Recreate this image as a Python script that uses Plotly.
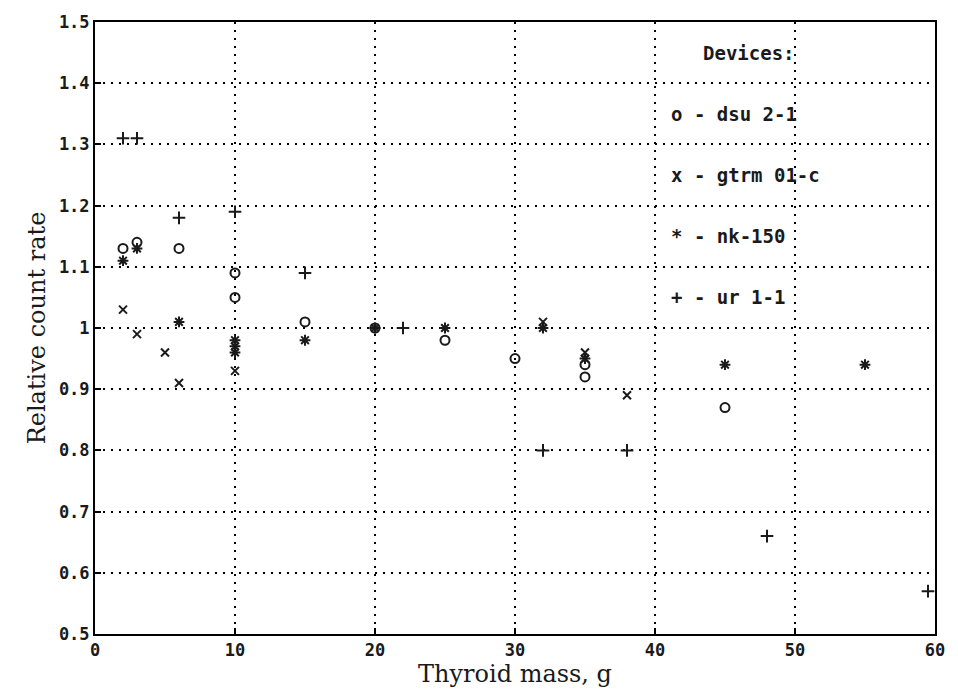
import plotly.graph_objects as go

# Data
dsu_x = [2, 3, 6, 10, 10, 15, 20, 25, 30, 35, 35, 45]
dsu_y = [1.13, 1.14, 1.13, 1.09, 1.05, 1.01, 1.00, 0.98, 0.95, 0.94, 0.92, 0.87]

gtrm_x = [2, 3, 5, 6, 10, 32, 35, 38]
gtrm_y = [1.03, 0.99, 0.96, 0.91, 0.93, 1.01, 0.96, 0.89]

nk_x = [2, 3, 6, 10, 10, 10, 15, 20, 25, 32, 35, 45, 55]
nk_y = [1.11, 1.13, 1.01, 0.98, 0.97, 0.96, 0.98, 1.00, 1.00, 1.00, 0.95, 0.94, 0.94]

ur_x = [2, 3, 6, 10, 15, 22, 32, 38, 48, 59.5]
ur_y = [1.31, 1.31, 1.18, 1.19, 1.09, 1.00, 0.80, 0.80, 0.66, 0.57]

x_ticks = [0, 10, 20, 30, 40, 50, 60]
y_ticks = [0.5, 0.6, 0.7, 0.8, 0.9, 1.0, 1.1, 1.2, 1.3, 1.4, 1.5]
y_ticktext = ["0.5", "0.6", "0.7", "0.8", "0.9", "1", "1.1", "1.2", "1.3", "1.4", "1.5"]

legend_title = "Devices:"
legend_items = ["o - dsu 2-1", "x - gtrm 01-c", "* - nk-150", "+ - ur 1-1"]
legend_y = [1.35, 1.25, 1.15, 1.05]

mono = "DejaVu Sans Mono"
serif = "DejaVu Serif"
ink = "#1a1a1a"

fig = go.Figure()
series = [
    (dsu_x, dsu_y, "circle-open", "dsu 2-1", 9),
    (gtrm_x, gtrm_y, "x-thin-open", "gtrm 01-c", 8),
    (nk_x, nk_y, "asterisk-open", "nk-150", 9),
    (ur_x, ur_y, "cross-thin-open", "ur 1-1", 9),
]
for xs, ys, sym, name, sz in series:
    fig.add_trace(go.Scatter(
        x=xs, y=ys, mode="markers", name=name,
        marker=dict(symbol=sym, size=sz, color=ink,
                    line=dict(width=2, color=ink)),
        showlegend=False,
    ))

annotations = [dict(x=43.3, y=1.45, xref="x", yref="y", text=legend_title,
                    showarrow=False, xanchor="left",
                    font=dict(family=mono, size=19, color=ink, weight="bold"))]
for t, yy in zip(legend_items, legend_y):
    annotations.append(dict(x=41.0, y=yy, xref="x", yref="y", text=t,
                            showarrow=False, xanchor="left",
                            font=dict(family=mono, size=19, color=ink, weight="bold")))

fig.update_layout(
    width=958, height=689,
    margin=dict(l=95, r=23, t=20, b=54),
    paper_bgcolor="white", plot_bgcolor="white",
    annotations=annotations,
    xaxis=dict(
        range=[0, 60], tickvals=x_ticks, ticktext=[str(v) for v in x_ticks],
        showgrid=True, gridcolor="black", gridwidth=2, griddash="2px,6px",
        showline=True, linecolor="black", linewidth=2, mirror=True,
        ticks="inside", ticklen=6, tickcolor="black", tickwidth=2,
        tickfont=dict(family=mono, size=17, color=ink, weight="bold"),
        title=dict(text="Thyroid mass, g", standoff=0,
                   font=dict(family=serif, size=24, color=ink)),
        zeroline=False,
    ),
    yaxis=dict(
        range=[0.5, 1.5], tickvals=y_ticks, ticktext=y_ticktext,
        showgrid=True, gridcolor="black", gridwidth=2, griddash="2px,6px",
        showline=True, linecolor="black", linewidth=2, mirror=True,
        ticks="inside", ticklen=6, tickcolor="black", tickwidth=2,
        tickfont=dict(family=mono, size=17, color=ink, weight="bold"),
        title=dict(text="Relative count rate", standoff=6,
                   font=dict(family=serif, size=24, color=ink)),
        zeroline=False,
    ),
)

fig.write_html("out.html")
